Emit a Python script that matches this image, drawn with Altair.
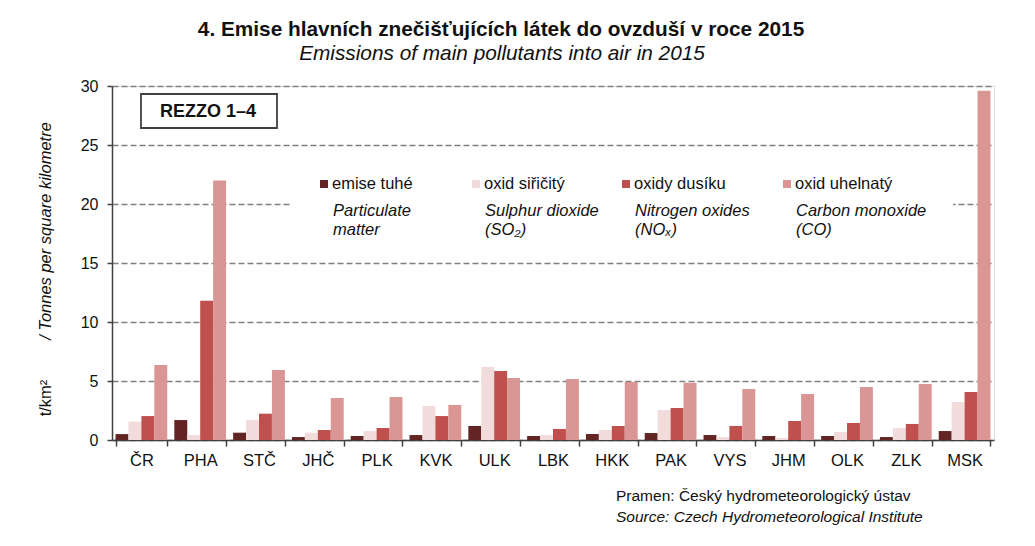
import altair as alt
import pandas as pd

# ---------------- data ----------------
regions = ["ČR", "PHA", "STČ", "JHČ", "PLK", "KVK", "ULK", "LBK", "HKK", "PAK",
           "VYS", "JHM", "OLK", "ZLK", "MSK"]
series_cz = ["emise tuhé", "oxid siřičitý", "oxidy dusíku", "oxid uhelnatý"]
series_en1 = ["Particulate", "Sulphur dioxide", "Nitrogen oxides", "Carbon monoxide"]
series_en2 = ["matter", "(SO₂)", "(NOₓ)", " (CO)"]

particulate = [0.50, 1.69, 0.62, 0.25, 0.34, 0.42, 1.19, 0.34, 0.51, 0.59, 0.42, 0.34, 0.34, 0.25, 0.76]
so2 = [1.55, 0.42, 1.69, 0.62, 0.76, 2.88, 6.19, 0.42, 0.85, 2.54, 0.25, 0.17, 0.68, 1.02, 3.22]
nox = [2.03, 11.80, 2.23, 0.85, 1.02, 2.03, 5.85, 0.93, 1.19, 2.71, 1.19, 1.61, 1.44, 1.36, 4.07]
co = [6.36, 22.00, 5.93, 3.56, 3.64, 2.97, 5.25, 5.17, 4.92, 4.85, 4.32, 3.90, 4.49, 4.75, 29.60]

y_ticks = [0, 5, 10, 15, 20, 25, 30]

title_cz = "4. Emise hlavních znečišťujících látek do ovzduší v roce 2015"
title_en = "Emissions of main pollutants into air in 2015"
box_label = "REZZO 1–4"
src_cz = "Pramen: Český hydrometeorologický ústav"
src_en = "Source: Czech Hydrometeorological Institute"
ytitle_cz = "t/km²"
ytitle_en = "/  Tonnes per square kilometre"

# ---------------- styles ----------------
colors = ["#632523", "#F2DCDB", "#C0504D", "#D99694"]
FONT = "Liberation Sans"
TXT = "#111111"
W, H = 882, 354
X0, Y0 = 112, 86  # plot origin on the page


def px(x):
    return x - X0


def py(y):
    return y - Y0


rows = []
for name, vals in zip(series_cz, [particulate, so2, nox, co]):
    for r, v in zip(regions, vals):
        rows.append({"region": r, "series": name, "value": v})
df = pd.DataFrame(rows)
one = pd.DataFrame({"k": [0]})

legend_sq_x = [324, 476, 626, 787]
legend_df = pd.DataFrame({
    "cz": series_cz,
    "en1": series_en1,
    "en2": series_en2,
    "sx": [px(v) for v in legend_sq_x],
    "tx": [px(v + 8) for v in legend_sq_x],
    "ex": [px(v + 9) for v in legend_sq_x],
})

bars = alt.Chart(df).mark_bar().encode(
    x=alt.X("region:N", sort=regions,
            scale=alt.Scale(paddingInner=0.12, paddingOuter=0.06),
            axis=alt.Axis(title=None, labelAngle=0, tickBand="extent",
                          labelFont=FONT, labelFontSize=16.5, labelColor=TXT,
                          labelPadding=6, tickSize=6, tickColor="#404040",
                          domainColor="#404040", domainWidth=1.5, tickWidth=1.5)),
    xOffset=alt.XOffset("series:N", sort=series_cz,
                        scale=alt.Scale(paddingInner=0, paddingOuter=0)),
    y=alt.Y("value:Q", scale=alt.Scale(domain=[0, 30], nice=False),
            axis=alt.Axis(title=None, values=y_ticks, grid=True,
                          gridDash=[6, 3], gridColor="#808080", gridWidth=1.5,
                          labelFont=FONT, labelFontSize=16, labelColor=TXT,
                          labelPadding=9, tickSize=5, tickColor="#404040",
                          domainColor="#404040", domainWidth=1.5, tickWidth=1.5)),
    color=alt.Color("series:N", sort=series_cz,
                    scale=alt.Scale(domain=series_cz, range=colors), legend=None),
)

# white legend background
legend_bg = alt.Chart(one).mark_rect(color="white").encode(
    x=alt.value(px(290)), x2=alt.value(px(953)),
    y=alt.value(py(165)), y2=alt.value(py(245)),
)

lg = alt.Chart(legend_df)
legend_sq = lg.mark_square(size=64, opacity=1).encode(
    x=alt.X("sx:Q", scale=None), y=alt.value(py(184)),
    color=alt.Color("cz:N", scale=alt.Scale(domain=series_cz, range=colors), legend=None),
)
legend_txt = lg.mark_text(align="left", baseline="middle", font=FONT, fontSize=16.5,
                          color=TXT).encode(
    x=alt.X("tx:Q", scale=None), y=alt.value(py(184)), text="cz:N")
legend_en1 = lg.mark_text(align="left", baseline="middle", font=FONT, fontSize=16.5,
                          fontStyle="italic", color=TXT).encode(
    x=alt.X("ex:Q", scale=None), y=alt.value(py(211)), text="en1:N")
legend_en2 = lg.mark_text(align="left", baseline="middle", font=FONT, fontSize=16.5,
                          fontStyle="italic", color=TXT).encode(
    x=alt.X("ex:Q", scale=None), y=alt.value(py(230)), text="en2:N")

ann = alt.Chart(one)

# REZZO box
rezzo_box = ann.mark_rect(fill="white", stroke="#404040", strokeWidth=1.8).encode(
    x=alt.value(px(141)), x2=alt.value(px(277)),
    y=alt.value(py(94)), y2=alt.value(py(128)),
)
rezzo_txt = ann.mark_text(font=FONT, fontSize=18, fontWeight="bold",
                          color=TXT, baseline="middle").encode(
    x=alt.value(px(208)), y=alt.value(py(112)), text=alt.value(box_label))

# titles
t1 = ann.mark_text(font=FONT, fontSize=20.8, fontWeight="bold",
                   color=TXT, baseline="middle").encode(
    x=alt.value(px(501)), y=alt.value(py(30)), text=alt.value(title_cz))
t2 = ann.mark_text(font=FONT, fontSize=20.8, fontStyle="italic",
                   color=TXT, baseline="middle").encode(
    x=alt.value(px(502)), y=alt.value(py(54)), text=alt.value(title_en))

# y-axis title
yt1 = ann.mark_text(font=FONT, fontSize=16.5, angle=270,
                    color=TXT, baseline="middle").encode(
    x=alt.value(px(46)), y=alt.value(py(398)), text=alt.value(ytitle_cz))
yt2 = ann.mark_text(font=FONT, fontSize=16.5, angle=270, fontStyle="italic",
                    color=TXT, baseline="middle").encode(
    x=alt.value(px(46)), y=alt.value(py(231)), text=alt.value(ytitle_en))

# source
s1 = ann.mark_text(font=FONT, fontSize=15.5, align="left",
                   color=TXT, baseline="middle").encode(
    x=alt.value(px(616)), y=alt.value(py(496)), text=alt.value(src_cz))
s2 = ann.mark_text(font=FONT, fontSize=15.5, align="left", fontStyle="italic",
                   color=TXT, baseline="middle").encode(
    x=alt.value(px(616)), y=alt.value(py(517)), text=alt.value(src_en))

chart = alt.layer(
    legend_bg, bars, legend_sq, legend_txt, legend_en1, legend_en2,
    rezzo_box, rezzo_txt, t1, t2, yt1, yt2, s1, s2,
).properties(
    width=W, height=H,
    autosize=alt.AutoSizeParams(type="none"),
    padding={"left": X0 - 8, "top": Y0 - 8, "right": 25, "bottom": 90},
).configure_view(
    stroke="#404040", strokeWidth=1.5,
).configure(background="white")

chart.save("out.html", embed_options={"renderer": "svg", "actions": False})
